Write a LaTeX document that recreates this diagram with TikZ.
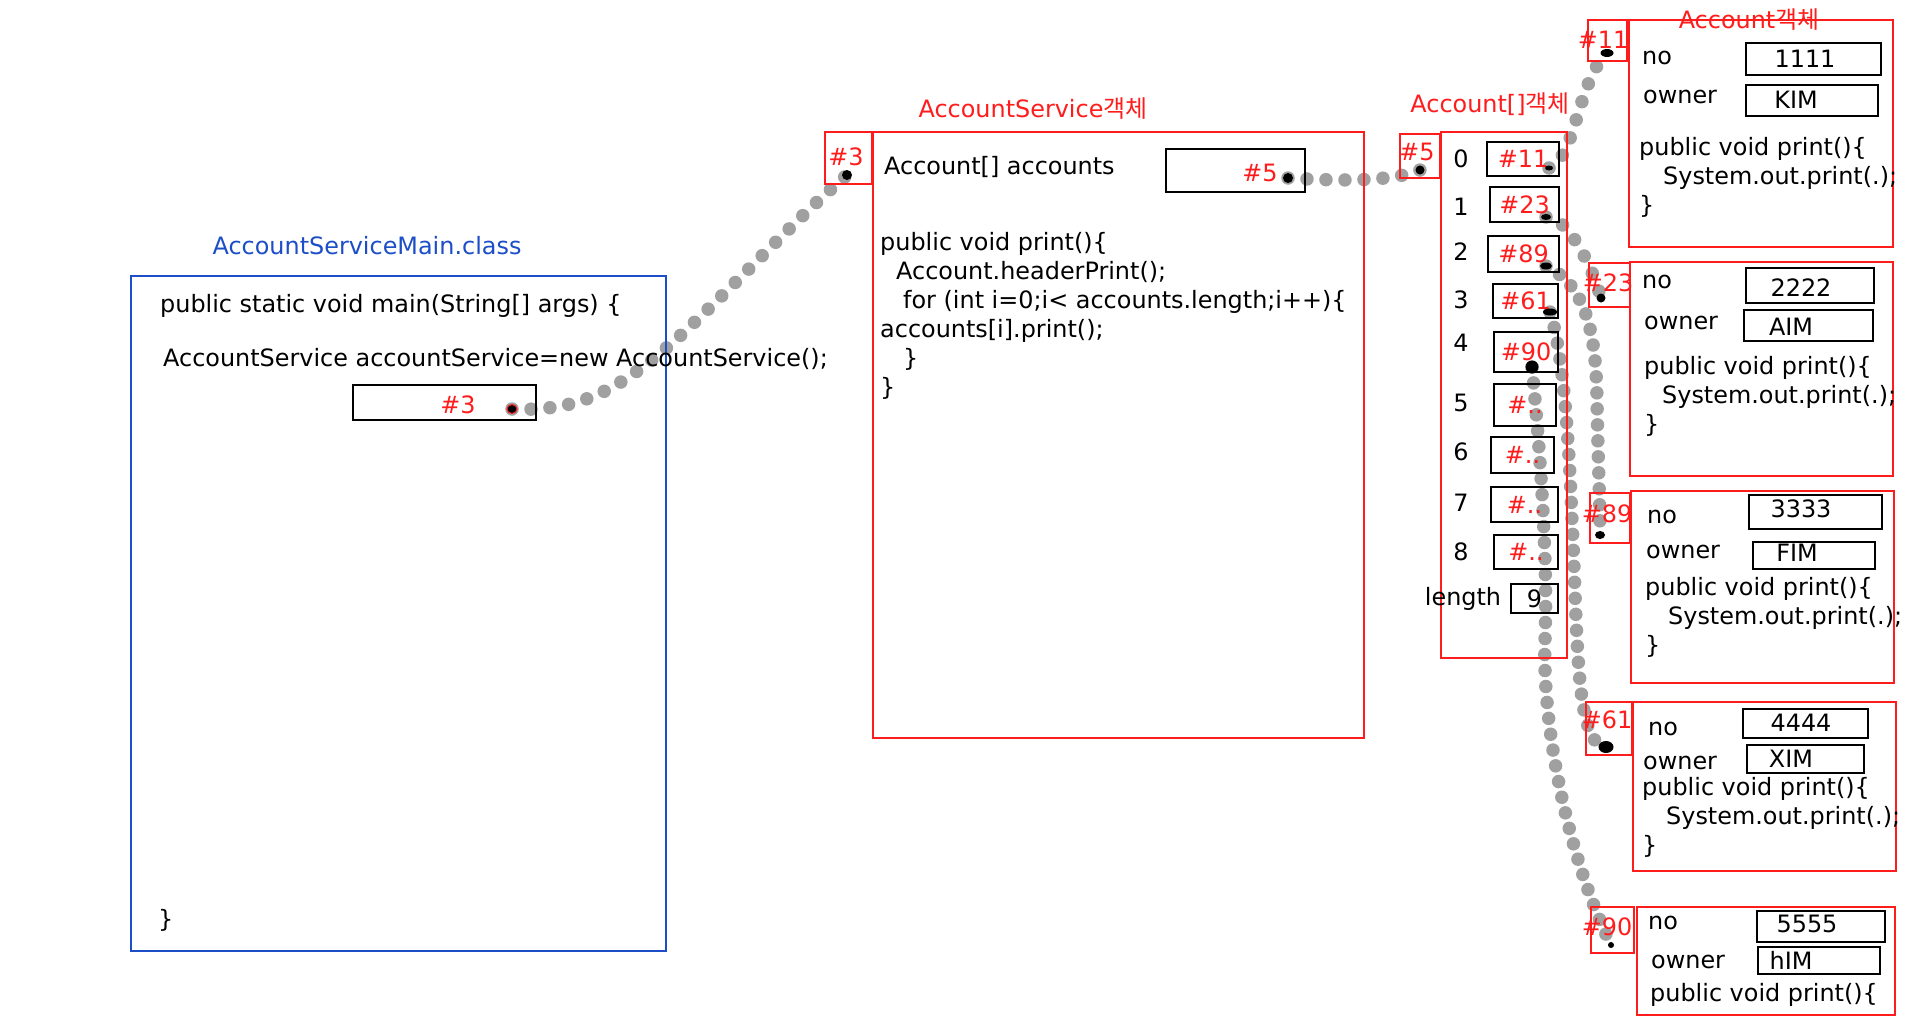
\documentclass[tikz,border=0pt]{standalone}
\usepackage{fontspec}
\setmainfont{DejaVu Sans}
\newfontfamily\krfont{Noto Sans CJK KR}
\usetikzlibrary{shapes.geometric,backgrounds}
\definecolor{objred}{RGB}{255,28,28}
\definecolor{clsblue}{RGB}{28,78,200}
\definecolor{refgray}{RGB}{120,120,120}

\begin{document}
\begin{tikzpicture}[x=1pt, y=-1pt, font=\fontsize{23.9}{29}\selectfont,
    redbox/.style={draw=objred, line width=2.2pt, inner sep=0},
    valbox/.style={draw=black, line width=2pt, inner sep=0},
    addr/.style={text=objred},
    code/.style={anchor=west, inner sep=0},
    listing/.style={anchor=north west, align=left, inner sep=0},
    refdot/.style={ellipse, fill=black, inner sep=0},
    ref/.style={draw=refgray, opacity=0.7, line width=13.5pt, line cap=round, dash pattern=on 0pt off 19pt},
    denseref/.style={ref, dash pattern=on 0pt off 16pt}]
    \useasboundingbox (0,0) rectangle (1920,1017);

    % AccountServiceMain.class
    \node (maintitle) [text=clsblue] at (367,246) {AccountServiceMain.class};
    \node (mainbox) [draw=clsblue, line width=2pt, minimum width=535, minimum height=675] at (398.5,613.5) {};
    \node (mainl1) [code] at (160,306) {public static void main(String[] args) \{};
    \node (mainl2) [code] at (163,359) {AccountService accountService=new AccountService();};
    \node (svcvar) [valbox, minimum width=183, minimum height=35] at (444.5,402.5) {};
    \node (svcval) [addr] at (458,405) {\#3};
    \node (svcdot) [refdot, draw=objred, line width=1pt, minimum width=10, minimum height=9] at (512,409) {};
    \node (mainend) [code] at (158,920) {\}};

    % AccountService object
    \node (svctitle) [text=objred] at (1033,109) {AccountService{\krfont 객체}};
    \node (svcaddr) [redbox, minimum width=47, minimum height=52] at (848.5,158) {};
    \node (svcaddrtxt) [addr] at (846,157) {\#3};
    \node (svcaddrdot) [refdot, minimum width=10, minimum height=10] at (847,175) {};
    \node (svcbox) [redbox, minimum width=491, minimum height=606] at (1118.5,435) {};
    \node (accfield) [code] at (884,167) {Account[] accounts};
    \node (accvar) [valbox, minimum width=139, minimum height=43] at (1235.5,170.5) {};
    \node (accval) [addr] at (1260,173) {\#5};
    \node (accdot) [refdot, minimum width=10, minimum height=10] at (1288,178) {};
    \node (svcprint) [listing] at (880,232) {public void print()\{\\
        \hspace*{16pt}Account.headerPrint();\\
        \hspace*{23pt}for (int i=0;i< accounts.length;i++)\{\\
        accounts[i].print();\\
        \hspace*{23pt}\}\\
        \}};

    % Account[] object
    \node (arrtitle) [text=objred] at (1490,104) {Account[]{\krfont 객체}};
    \node (arraddr) [redbox, minimum width=40, minimum height=44] at (1420,156) {};
    \node (arraddrtxt) [addr] at (1417,152) {\#5};
    \node (arraddrdot) [refdot, minimum width=9, minimum height=9] at (1420,170) {};
    \node (arrbox) [redbox, minimum width=126, minimum height=526] at (1504,395) {};
    \node (idx0) at (1461,159) {0};
    \node (idx1) at (1461,207) {1};
    \node (idx2) at (1461,252) {2};
    \node (idx3) at (1461,300) {3};
    \node (idx4) at (1461,343) {4};
    \node (idx5) at (1461,403) {5};
    \node (idx6) at (1461,452) {6};
    \node (idx7) at (1461,503) {7};
    \node (idx8) at (1461,552) {8};
    \node (idxlen) at (1463,599) {length};
    \node (slot0) [valbox, addr, minimum width=72, minimum height=34] at (1523,159) {\#11};
    \node (slot1) [valbox, addr, minimum width=69, minimum height=35] at (1524.5,204.5) {\#23};
    \node (slot2) [valbox, addr, minimum width=71, minimum height=36] at (1523.5,254) {\#89};
    \node (slot3) [valbox, addr, minimum width=65, minimum height=34] at (1525.5,301) {\#61};
    \node (slot4) [valbox, addr, minimum width=64, minimum height=40] at (1526,352) {\#90};
    \node (slot5) [valbox, addr, minimum width=62, minimum height=42] at (1525,405) {\#..};
    \node (slot6) [valbox, addr, minimum width=63, minimum height=36] at (1522.5,455) {\#..};
    \node (slot7) [valbox, addr, minimum width=67, minimum height=35] at (1524.5,504.5) {\#..};
    \node (slot8) [valbox, addr, minimum width=64, minimum height=34] at (1526,552) {\#..};
    \node (lenbox) [valbox, minimum width=47, minimum height=29] at (1534.5,598.5) {9};
    \node (slot0dot) [refdot, minimum width=8, minimum height=5] at (1549,168) {};
    \node (slot1dot) [refdot, minimum width=10, minimum height=6] at (1546,217) {};
    \node (slot2dot) [refdot, minimum width=12, minimum height=7] at (1546,266) {};
    \node (slot3dot) [refdot, minimum width=14, minimum height=7] at (1550,312) {};
    \node (slot4dot) [refdot, minimum width=13, minimum height=13] at (1532,367) {};

    % Account objects
    \node (acc1title) [text=objred] at (1749,20) {Account{\krfont 객체}};
    \node (acc1addr) [redbox, minimum width=39, minimum height=41] at (1607.5,40.5) {};
    \node (acc1addrtxt) [addr] at (1603,40) {\#11};
    \node (acc1dot) [refdot, minimum width=13, minimum height=8] at (1607,53) {};
    \node (acc1box) [redbox, minimum width=264, minimum height=227] at (1761,133.5) {};
    \node (acc1no) [code] at (1642,58) {no};
    \node (acc1noval) [valbox, minimum width=135, minimum height=32] at (1813.5,59) {};
    \node (acc1notxt) at (1805,59) {1111};
    \node (acc1owner) [code] at (1643,97) {owner};
    \node (acc1ownerval) [valbox, minimum width=132, minimum height=31] at (1812,100.5) {};
    \node (acc1ownertxt) at (1796,100) {KIM};
    \node (acc1print) [listing] at (1639,137) {public void print()\{\\\hspace*{24pt}System.out.print(.);\\\}};

    \node (acc2addr) [redbox, minimum width=41, minimum height=44] at (1609.5,285) {};
    \node (acc2addrtxt) [addr] at (1608,283) {\#23};
    \node (acc2dot) [refdot, minimum width=9, minimum height=9] at (1601,298) {};
    \node (acc2box) [redbox, minimum width=263, minimum height=214] at (1761.5,369) {};
    \node (acc2no) [code] at (1642,282) {no};
    \node (acc2noval) [valbox, minimum width=128, minimum height=35] at (1810,285.5) {};
    \node (acc2notxt) at (1801,288) {2222};
    \node (acc2owner) [code] at (1644,323) {owner};
    \node (acc2ownerval) [valbox, minimum width=129, minimum height=31] at (1808.5,325.5) {};
    \node (acc2ownertxt) at (1791,327) {AIM};
    \node (acc2print) [listing] at (1644,356) {public void print()\{\\\hspace*{18pt}System.out.print(.);\\\}};

    \node (acc3addr) [redbox, minimum width=40, minimum height=50] at (1610,518) {};
    \node (acc3addrtxt) [addr] at (1607,514) {\#89};
    \node (acc3dot) [refdot, minimum width=10, minimum height=8] at (1600,535) {};
    \node (acc3box) [redbox, minimum width=263, minimum height=192] at (1762.5,587) {};
    \node (acc3no) [code] at (1647,517) {no};
    \node (acc3noval) [valbox, minimum width=133, minimum height=34] at (1815.5,512) {};
    \node (acc3notxt) at (1801,509) {3333};
    \node (acc3owner) [code] at (1646,552) {owner};
    \node (acc3ownerval) [valbox, minimum width=122, minimum height=27] at (1814,555.5) {};
    \node (acc3ownertxt) at (1797,553) {FIM};
    \node (acc3print) [listing] at (1645,577) {public void print()\{\\\hspace*{23pt}System.out.print(.);\\\}};

    \node (acc4addr) [redbox, minimum width=46, minimum height=53] at (1609,728.5) {};
    \node (acc4addrtxt) [addr] at (1607,720) {\#61};
    \node (acc4dot) [refdot, minimum width=15, minimum height=12] at (1606,747) {};
    \node (acc4box) [redbox, minimum width=263, minimum height=169] at (1764.5,786.5) {};
    \node (acc4no) [code] at (1648,729) {no};
    \node (acc4noval) [valbox, minimum width=125, minimum height=29] at (1805.5,723.5) {};
    \node (acc4notxt) at (1801,723) {4444};
    \node (acc4owner) [code] at (1643,763) {owner};
    \node (acc4ownerval) [valbox, minimum width=117, minimum height=28] at (1805.5,759) {};
    \node (acc4ownertxt) at (1791,759) {XIM};
    \node (acc4print) [listing] at (1642,777) {public void print()\{\\\hspace*{24pt}System.out.print(.);\\\}};

    \node (acc5addr) [redbox, minimum width=43, minimum height=46] at (1612.5,930) {};
    \node (acc5addrtxt) [addr] at (1607,927) {\#90};
    \node (acc5dot) [refdot, minimum width=6, minimum height=6] at (1611,945) {};
    \node (acc5box) [redbox, minimum width=258, minimum height=108] at (1766,961) {};
    \node (acc5no) [code] at (1648,923) {no};
    \node (acc5noval) [valbox, minimum width=128, minimum height=31] at (1821,926.5) {};
    \node (acc5notxt) at (1807,924) {5555};
    \node (acc5owner) [code] at (1651,962) {owner};
    \node (acc5ownerval) [valbox, minimum width=122, minimum height=27] at (1819,960.5) {};
    \node (acc5ownertxt) at (1791,960) {hIM};
    \node (acc5print) [code] at (1650,995) {public void print()\{};

    % references
    \begin{scope}[on background layer]
        \fill [white] (0,0) rectangle (1920,1017);
        \draw [ref] (svcdot.center) .. controls (580,412) and (620,390) .. (681,335) .. controls (740,280) and (800,215) .. (svcaddrdot.center);
        \draw [ref] (accdot.center) .. controls (1340,181) and (1390,182) .. (arraddrdot.center);
        \draw [ref] (slot0dot.center) .. controls (1575,160) and (1578,80) .. (acc1dot.center);
        \draw [ref] (slot1dot.center) .. controls (1565,215) and (1590,260) .. (acc2dot.center);
        \draw [denseref] (slot2dot.center) .. controls (1585,285) and (1596,330) .. (1597,400) .. controls (1598,460) and (1600,500) .. (acc3dot.center);
        \draw [denseref] (slot3dot.center) .. controls (1562,350) and (1568,420) .. (1572,520) .. controls (1578,640) and (1575,745) .. (acc4dot.center);
        \draw [denseref] (slot4dot.center) .. controls (1540,450) and (1548,560) .. (1545,640) .. controls (1542,720) and (1565,850) .. (acc5dot.center);
    \end{scope}
\end{tikzpicture}
\end{document}
